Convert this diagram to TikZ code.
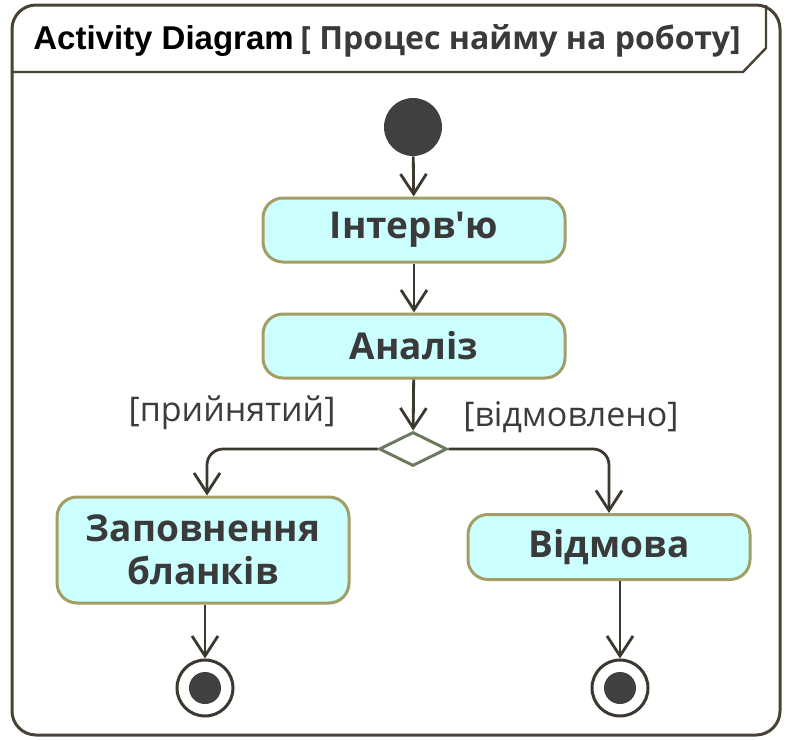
\documentclass[tikz,border=0pt]{standalone}
\usepackage{fontspec}
\setmainfont{Open Sans}
\newfontfamily\headfont{Liberation Sans}
\usetikzlibrary{shapes.geometric, arrows.meta}
\definecolor{actionfill}{HTML}{CCFFFF}
\definecolor{actionborder}{HTML}{A39D66}
\definecolor{flowline}{HTML}{3C3830}
\definecolor{framecol}{HTML}{4A4235}
\definecolor{decisionborder}{HTML}{6E7A60}
\definecolor{tokenfill}{HTML}{404040}
\definecolor{nodetext}{HTML}{3A3A3A}
\definecolor{guardtext}{HTML}{3C3C3C}
\tikzset{
    action/.style={rectangle, rounded corners=10pt, draw=actionborder, fill=actionfill,
        line width=1.5pt, text=nodetext, font=\bfseries\fontsize{18.5}{21.5}\selectfont,
        align=center, inner sep=0pt},
    flow/.style={draw=flowline, line width=1.4pt,
        -{Straight Barb[length=10pt,width=13pt,line width=1.4pt]}},
    guard/.style={text=guardtext, font=\fontsize{17}{20}\selectfont, inner sep=0pt},
    initial/.style={circle, fill=tokenfill, minimum size=29pt, inner sep=0pt},
    final/.style={circle, draw=flowline, fill=white, line width=1.5pt, minimum size=28pt,
        inner sep=0pt, path picture={\fill[tokenfill] (path picture bounding box.center) circle (8pt);}},
    decision/.style={diamond, draw=decisionborder, fill=white, line width=1.5pt,
        minimum width=34pt, minimum height=17pt, inner sep=0pt},
    frame/.style={draw=framecol, line width=1.5pt}
}
\begin{document}
\begin{tikzpicture}[x=0.5pt, y=-0.5pt]
    \useasboundingbox (0,0) rectangle (787,739);
    % Draw outer frame and title tab
    \draw[frame, rounded corners=12pt] (12,5) rectangle (780,735);
    \draw[frame, line width=1.2pt] (12,72) -- (743,72) -- (766,48) -- (766,5);
    \node[anchor=base west, inner sep=0pt, font=\headfont\bfseries\fontsize{16.5}{20}\selectfont] (title) at (33,49) {Activity Diagram};
    \node[anchor=base west, inner sep=0pt, text=nodetext, font=\bfseries\fontsize{16}{20}\selectfont] (subtitle) at (300,49) {[ Процес найму на роботу]};
    % Draw activity nodes
    \node[initial] (start) at (413,127) {};
    \node[action, minimum width=151pt, minimum height=32pt] (interview) at (414,230) {Інтерв\textquotesingle ю};
    \node[action, minimum width=151pt, minimum height=32pt] (analysis) at (414,346) {Аналіз};
    \node[decision] (choice) at (413,449) {};
    \node[action, minimum width=146pt, minimum height=53pt] (forms) at (203,550) {Заповнення\\бланків};
    \node[action, minimum width=141pt, minimum height=32.5pt] (refusal) at (609,547) {Відмова};
    \node[final] (end1) at (205,688) {};
    \node[final] (end2) at (620,688) {};
    % Guards
    \node[guard] (accepted) at (232,413) {[прийнятий]};
    \node[guard] (rejected) at (571,417) {[відмовлено]};
    % Draw control flows
    \draw[flow] (start) -- (interview);
    \draw[flow] (interview) -- (analysis);
    \draw[flow] (analysis) -- (choice);
    \draw[flow, rounded corners=8pt] (choice.west) -| ([xshift=2pt]forms.north);
    \draw[flow, rounded corners=8pt] (choice.east) -| (refusal);
    \draw[flow] (forms.south -| end1) -- (end1);
    \draw[flow] (refusal.south -| end2) -- (end2);
\end{tikzpicture}
\end{document}
